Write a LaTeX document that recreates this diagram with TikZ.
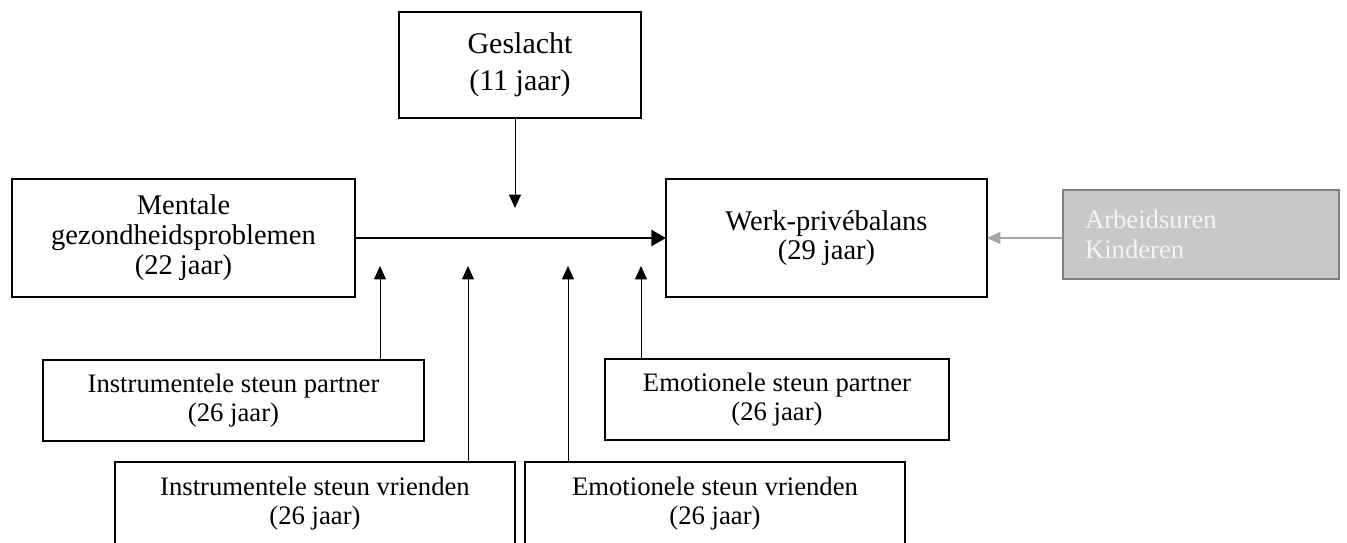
\documentclass[tikz,border=0pt]{standalone}
\usepackage{fontspec}
\setmainfont{Liberation Serif}
\usetikzlibrary{arrows.meta}
\definecolor{grayfill}{HTML}{C8C8C8}
\definecolor{grayborder}{HTML}{7F7F7F}
\definecolor{grayarrow}{HTML}{A6A6A6}
\definecolor{graytext}{HTML}{F4F4F4}
\tikzset{
  box/.style={draw=black, line width=1.2pt, fill=white, align=center, inner sep=0pt, outer sep=0pt},
  graybox/.style={draw=grayborder, line width=1.2pt, fill=grayfill, text=graytext, align=left, inner sep=0pt, outer sep=0pt},
  thinarrow/.style={line width=0.75pt, -{Triangle[length=10pt,width=9pt]}},
  thickarrow/.style={line width=1.8pt, -{Triangle[length=11pt,width=12pt]}},
  grayconn/.style={draw=grayarrow, line width=0.9pt, -{Triangle[length=10pt,width=9pt]}},
}
\begin{document}
\begin{tikzpicture}[x=0.75pt,y=-0.75pt]
\clip (0,0) rectangle (1347,543);
\fill[white] (0,0) rectangle (1347,543);

\node[box, minimum width={242*0.75pt}, minimum height={106*0.75pt}, font=\fontsize{22.5}{27.5}\selectfont] (ges) at (520,65) {Geslacht\\(11 jaar)};
\node[box, minimum width={343*0.75pt}, minimum height={118*0.75pt}, font=\fontsize{21.4}{22.5}\selectfont] (ment) at (183.5,238) {Mentale\\gezondheidsproblemen\\(22 jaar)};
\node[box, minimum width={321*0.75pt}, minimum height={118*0.75pt}, font=\fontsize{21.4}{21.5}\selectfont] (werk) at (826.5,238) {Werk-privébalans\\(29 jaar)};
\node[graybox, minimum width={276*0.75pt}, minimum height={89*0.75pt}, text width={232*0.75pt}, font=\fontsize{20}{22}\selectfont] (gray) at (1201,234.5) {Arbeidsuren\\Kinderen};

\node[box, minimum width={381*0.75pt}, minimum height={81*0.75pt}, font=\fontsize{20}{22}\selectfont] (ip) at (233.5,400.5) {Instrumentele steun partner\\(26 jaar)};
\node[box, minimum width={344*0.75pt}, minimum height={81*0.75pt}, font=\fontsize{20}{22}\selectfont] (ep) at (777,399.5) {Emotionele steun partner\\(26 jaar)};
\node[box, minimum width={400*0.75pt}, minimum height={83*0.75pt}, font=\fontsize{20}{22}\selectfont] (iv) at (315,503.5) {Instrumentele steun vrienden\\(26 jaar)};
\node[box, minimum width={380*0.75pt}, minimum height={83*0.75pt}, font=\fontsize{20}{22}\selectfont] (ev) at (715,503.5) {Emotionele steun vrienden\\(26 jaar)};

\coordinate (gtip) at (515,208);
\coordinate (t1) at (380,266);
\coordinate (t2) at (468,266);
\coordinate (t3) at (568,266);
\coordinate (t4) at (641,266);

\draw[thickarrow] (ment.east) -- (werk.west);
\draw[thinarrow] (ges.south -| gtip) -- (gtip);
\draw[thinarrow] (ip.north -| t1) -- (t1);
\draw[thinarrow] (iv.north -| t2) -- (t2);
\draw[thinarrow] (ev.north -| t3) -- (t3);
\draw[thinarrow] (ep.north -| t4) -- (t4);
\draw[grayconn] (gray.west |- werk.east) -- (werk.east);
\end{tikzpicture}
\end{document}
